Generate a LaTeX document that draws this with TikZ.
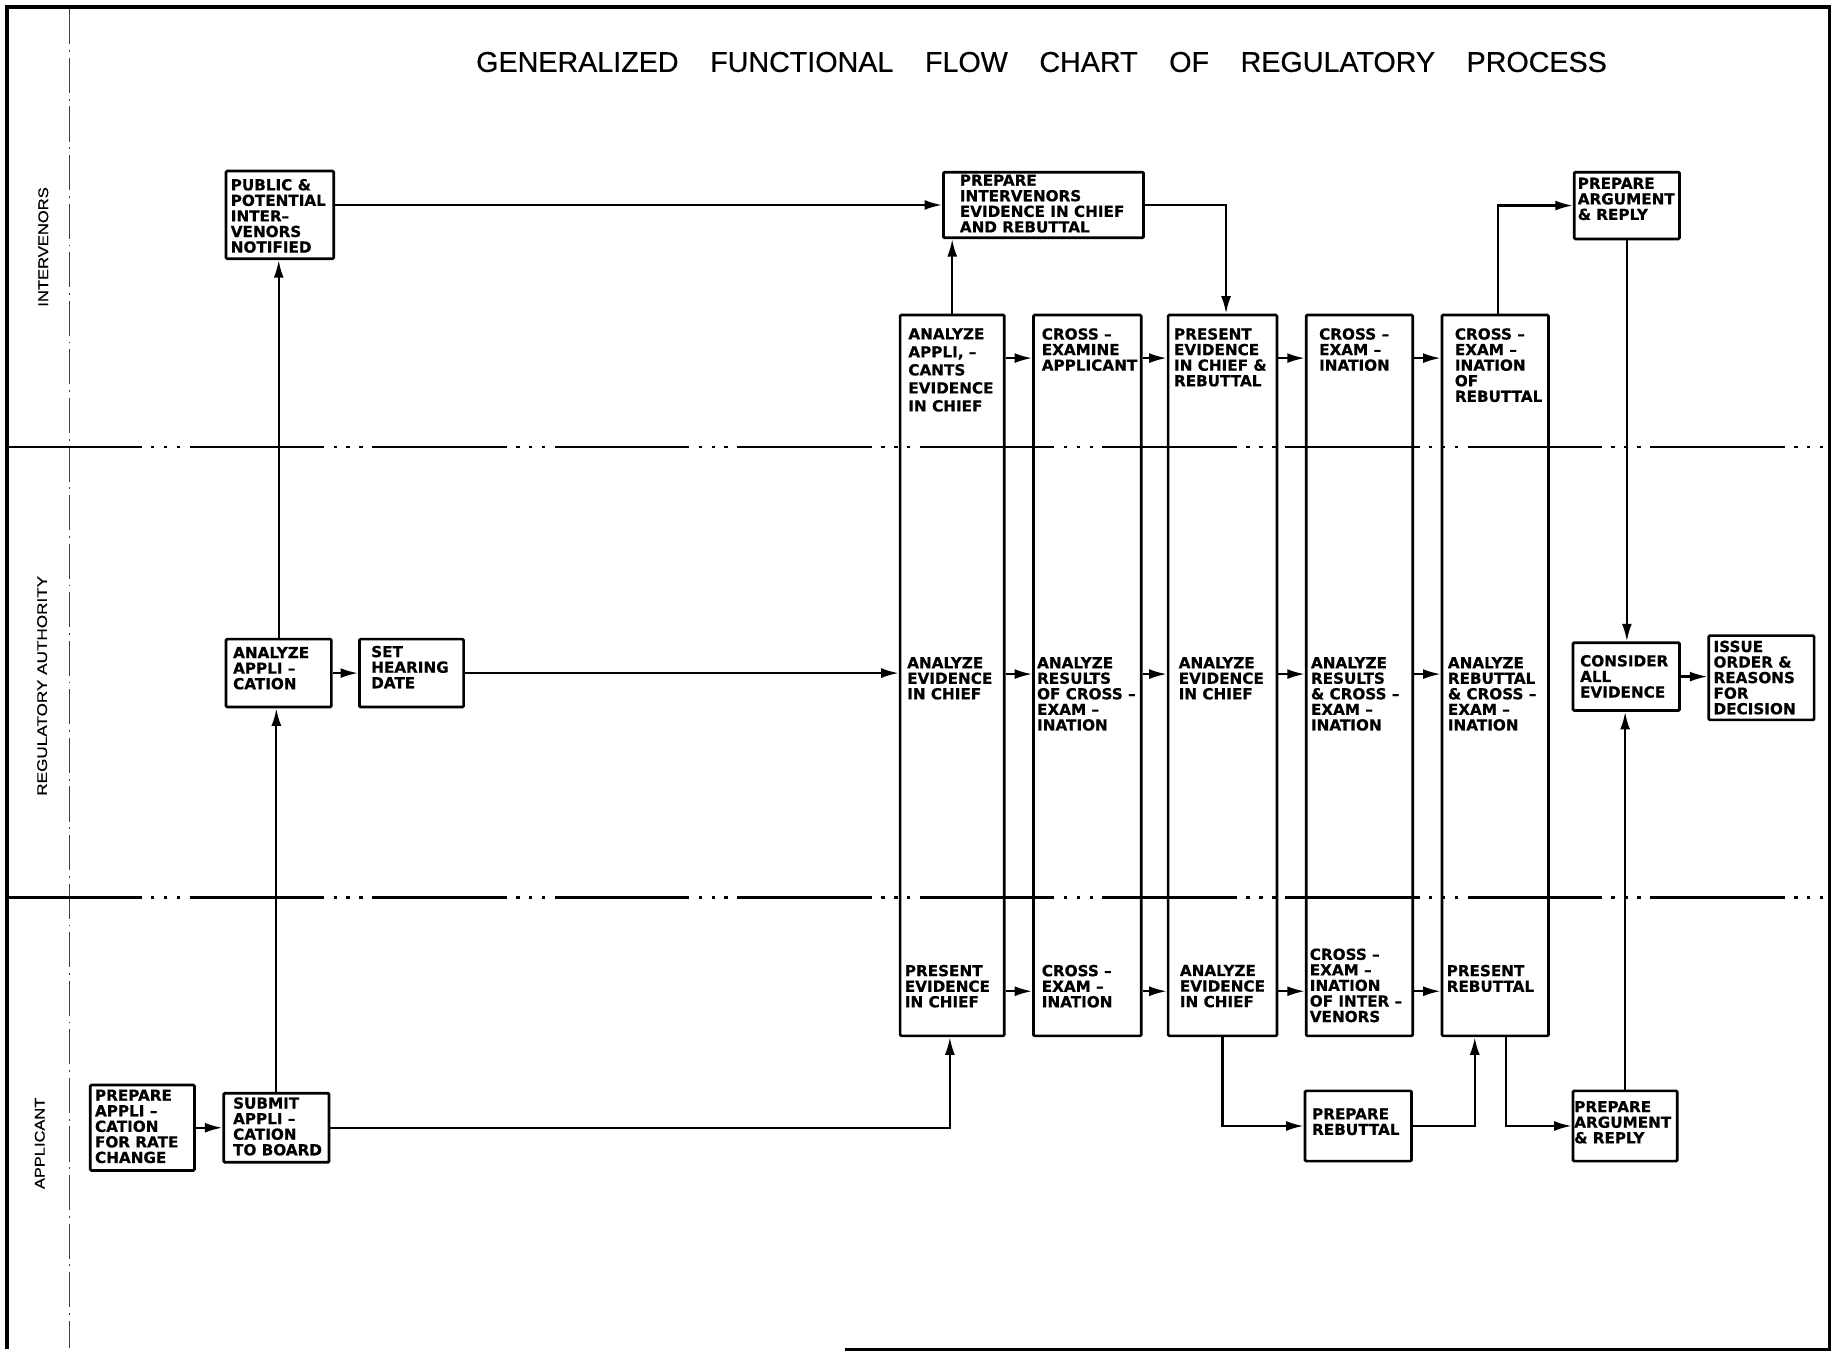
\documentclass[tikz,border=0pt]{standalone}
\usepackage{fontspec}
\usepackage{graphicx}
\usetikzlibrary{arrows.meta}
\newfontfamily\boxfont{DejaVu Sans}[BoldFeatures={FakeBold=0.6}]
\newfontfamily\titlefont{Liberation Sans}[FakeBold=0.5]
\tikzset{
  boxs/.style={draw, line width=2.3pt, inner sep=0pt, rounded corners=1pt},
  txt/.style={inner sep=0pt, align=left, font=\boxfont\bfseries\fontsize{13}{13.3}\selectfont},
  arr/.style={line width=1.9pt, -{Latex[length=15pt,width=8.5pt]}},
  lanesep/.style={line width=2.2pt, dash pattern=on 115pt off 8pt on 3pt off 8pt on 3pt off 8pt on 3pt off 8pt},
  frameline/.style={line width=2.8pt},
  laneline/.style={line width=0.8pt, black!75, dash pattern=on 30pt off 5pt on 1.5pt off 5pt},
  lanelabel/.style={rotate=90, inner sep=0pt, font=\titlefont\fontsize{12}{12}\selectfont},
  titlestyle/.style={inner sep=0pt, font=\titlefont\fontsize{24.5}{26}\selectfont}
}
\newcommand{\flowbox}[8]{%
  \node[boxs, minimum width={(#4-#2)*1pt}, minimum height={(#5-#3)*1pt}, anchor=north west] (#1) at (#2,#3) {};
  \node[txt, anchor=west] (#1t) at (#6,#7) {#8};}
\newcommand{\colbox}[3]{%
  \node[boxs, minimum width={(#3-#2)*1pt}, minimum height=616pt, anchor=north west] (#1) at (#2,268) {};}
\begin{document}
\begin{tikzpicture}[x=1pt,y=-1pt]
\useasboundingbox (0,0) rectangle (1568,1155);
\fill[white] (0,0) rectangle (1568,1155);

% frame and lanes
\draw[frameline] (722,1153) -- (1563,1153) -- (1563,6) -- (6,6) -- (6,1153);
\draw[laneline] (59,8) -- (59,1152);
\draw[lanesep] (6,382) -- (1563,382);
\draw[lanesep] (6,767) -- (1563,767);

% title and lane labels
\node[titlestyle] (title) at (890,53) {GENERALIZED\hspace{27pt}FUNCTIONAL\hspace{27pt}FLOW\hspace{27pt}CHART\hspace{27pt}OF\hspace{27pt}REGULATORY\hspace{27pt}PROCESS};
\node[lanelabel] (lint) at (37,211) {\scalebox{1.18}[1]{INTERVENORS}};
\node[lanelabel] (lreg) at (36,586) {\scalebox{1.22}[1]{REGULATORY\ AUTHORITY}};
\node[lanelabel] (lapp) at (34,977) {\scalebox{1.17}[1]{APPLICANT}};

% simple boxes
\flowbox{pub}{192}{145}{284}{220}{197}{184.5}{PUBLIC \&\\POTENTIAL\\INTER–\\VENORS\\NOTIFIED}
\flowbox{anapp}{192}{545}{282}{603}{199}{571}{ANALYZE\\APPLI –\\CATION}
\flowbox{seth}{306}{545}{395}{603}{317}{570}{SET\\HEARING\\DATE}
\flowbox{prepapp}{76}{926}{165}{999}{81}{962.5}{PREPARE\\APPLI –\\CATION\\FOR RATE\\CHANGE}
\flowbox{subm}{190}{933}{280}{992}{199}{962.5}{SUBMIT\\APPLI –\\CATION\\TO BOARD}
\flowbox{prepint}{805}{146}{976}{202}{820}{174}{PREPARE\\INTERVENORS\\EVIDENCE IN CHIEF\\AND REBUTTAL}
\flowbox{pargT}{1344}{146}{1434}{203}{1348}{170}{PREPARE\\ARGUMENT\\\& REPLY}
\flowbox{cons}{1343}{548}{1434}{606}{1350}{578}{CONSIDER\\ALL\\EVIDENCE}
\flowbox{issue}{1459}{542}{1549}{614}{1464}{579}{ISSUE\\ORDER \&\\REASONS\\FOR\\DECISION}
\flowbox{prebut}{1114}{931}{1205}{991}{1121}{958.5}{PREPARE\\REBUTTAL}
\flowbox{pargB}{1343}{931}{1432}{991}{1345}{959}{PREPARE\\ARGUMENT\\\& REPLY}

% tall columns
\colbox{c1}{768}{857}
\colbox{c2}{882}{974}
\colbox{c3}{997}{1090}
\colbox{c4}{1115}{1206}
\colbox{c5}{1231}{1322}

% column texts
\node[txt, anchor=north west, font=\boxfont\bfseries\fontsize{13}{15.4}\selectfont] (c1a) at (776,280.3) {ANALYZE\\APPLI, –\\CANTS\\EVIDENCE\\IN CHIEF};
\node[txt, anchor=north west] (c1b) at (775,561.3) {ANALYZE\\EVIDENCE\\IN CHIEF};
\node[txt, anchor=north west] (c1c) at (773,824.3) {PRESENT\\EVIDENCE\\IN CHIEF};
\node[txt, anchor=north west] (c2a) at (890,280.3) {CROSS –\\EXAMINE\\APPLICANT};
\node[txt, anchor=north west] (c2b) at (886,561.3) {ANALYZE\\RESULTS\\OF CROSS –\\EXAM –\\INATION};
\node[txt, anchor=north west] (c2c) at (890,824.3) {CROSS –\\EXAM –\\INATION};
\node[txt, anchor=north west] (c3a) at (1003,280.3) {PRESENT\\EVIDENCE\\IN CHIEF \&\\REBUTTAL};
\node[txt, anchor=north west] (c3b) at (1007,561.3) {ANALYZE\\EVIDENCE\\IN CHIEF};
\node[txt, anchor=north west] (c3c) at (1008,824.3) {ANALYZE\\EVIDENCE\\IN CHIEF};
\node[txt, anchor=north west] (c4a) at (1127,280.3) {CROSS –\\EXAM –\\INATION};
\node[txt, anchor=north west] (c4b) at (1120,561.3) {ANALYZE\\RESULTS\\\& CROSS –\\EXAM –\\INATION};
\node[txt, anchor=north west] (c4c) at (1119,810.3) {CROSS –\\EXAM –\\INATION\\OF INTER –\\VENORS};
\node[txt, anchor=north west] (c5a) at (1243,280.3) {CROSS –\\EXAM –\\INATION\\OF\\REBUTTAL};
\node[txt, anchor=north west] (c5b) at (1237,561.3) {ANALYZE\\REBUTTAL\\\& CROSS –\\EXAM –\\INATION};
\node[txt, anchor=north west] (c5c) at (1236,824.3) {PRESENT\\REBUTTAL};

% rows for column-to-column arrows
\coordinate (rT) at (0,306);
\coordinate (rM) at (0,576);
\coordinate (rB) at (0,847);
\foreach \a/\b in {c1/c2,c2/c3,c3/c4,c4/c5}{
  \draw[arr] (\a.east |- rT) -- (\b.west |- rT);
  \draw[arr] (\a.east |- rM) -- (\b.west |- rM);
  \draw[arr] (\a.east |- rB) -- (\b.west |- rB);
}

% connectors
\draw[arr] (prepapp) -- (subm);
\draw[arr] (subm.north) -- (subm.north |- anapp.south);
\draw[arr] (anapp.north) -- (anapp.north |- pub.south);
\draw[arr] (pub.east |- prepint.west) -- (prepint.west);
\draw[arr] (anapp) -- (seth);
\draw[arr] (seth.east) -- (seth.east -| c1.west);
\draw[arr] (subm.east) -| ([xshift=-2pt]c1.south);
\draw[arr] (c1.north) -- (c1.north |- prepint.south);
\draw[arr] (prepint.east) -| ([xshift=3pt]c3.north);
\draw[arr] ([xshift=2.5pt]c5.north) |- (pargT.west);
\draw[arr] (pargT.south) -- (pargT.south |- cons.north);
\draw[arr] (cons.east) -- (cons.east -| issue.west);
\draw[arr] (pargB.north) -- (pargB.north |- cons.south);
\draw[arr] (c3.south) |- (prebut.west);
\draw[arr] (prebut.east) -| ([xshift=-17.5pt]c5.south);
\draw[arr] ([xshift=9.5pt]c5.south) |- (pargB.west);
\end{tikzpicture}
\end{document}
